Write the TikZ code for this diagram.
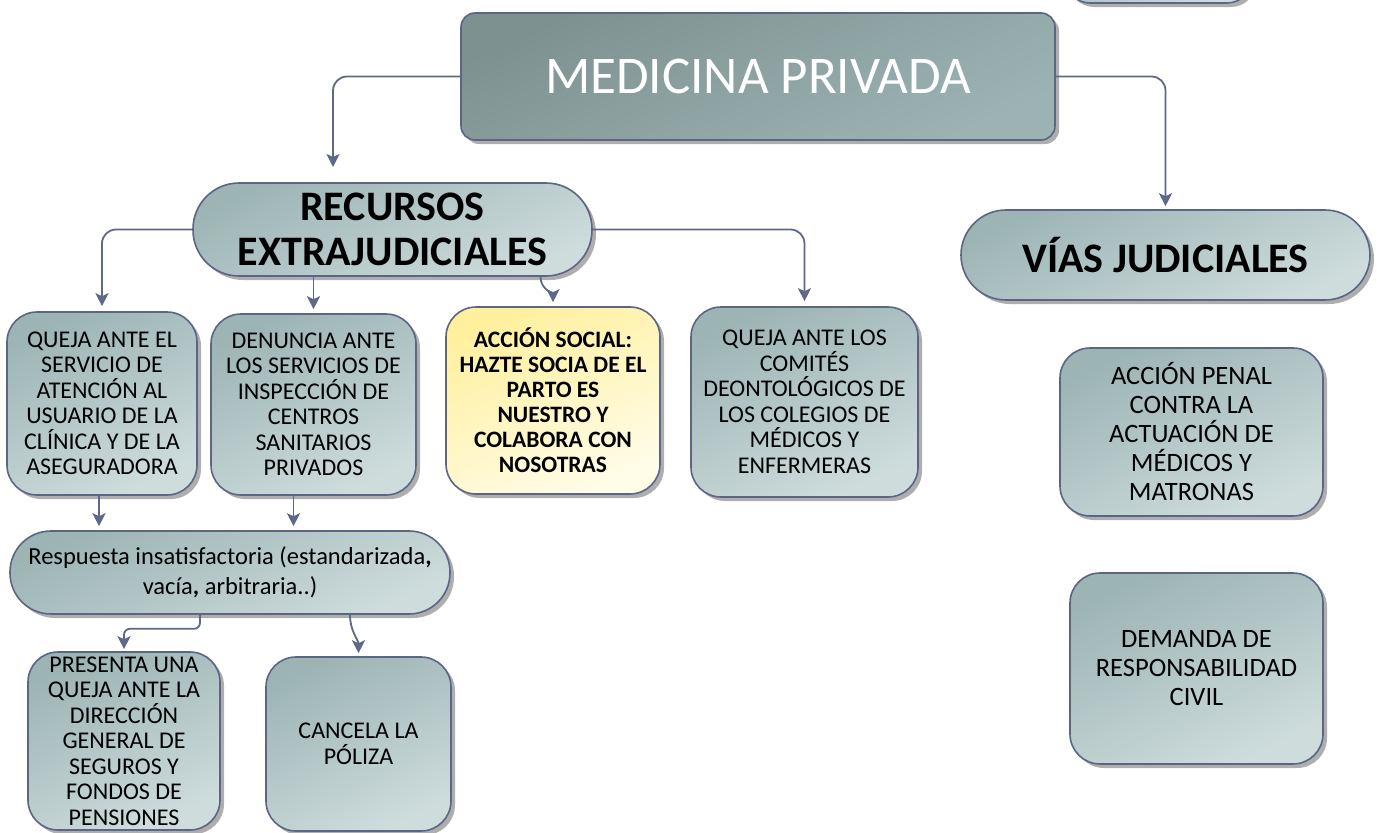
\documentclass[tikz,border=0pt]{standalone}
\usepackage{fontspec}
\setmainfont{Carlito}
\usepackage{tikz}
\usetikzlibrary{arrows.meta,shadows,calc}
\usepackage{xcolor}

\definecolor{boxline}{HTML}{5B6585}
\definecolor{arrowcol}{HTML}{5F6889}
\definecolor{titletop}{HTML}{7E9191}
\definecolor{titlebot}{HTML}{9DB3B3}
\definecolor{boxtop}{HTML}{9DB4B5}
\definecolor{boxbot}{HTML}{CEDCDC}
\definecolor{notetop}{HTML}{FFF09E}
\definecolor{notebot}{HTML}{FFFCE8}

\begin{document}
\begin{tikzpicture}[x=1pt, y=-1pt,
    >={Stealth[length=13pt,width=13pt,inset=3pt]},
    box/.style={draw=boxline, line width=1.6pt, top color=boxtop, bottom color=boxbot,
        shading angle=25, align=center, inner sep=0pt,
        drop shadow={shadow xshift=4pt, shadow yshift=-4pt, fill=black!45, opacity=0.7}},
    card/.style={box, rounded corners=30pt, font=\fontsize{24}{25.5}\selectfont},
    bigcard/.style={box, rounded corners=30pt, font=\fontsize{26.5}{29}\selectfont},
    conn/.style={->, draw=arrowcol, line width=1.8pt, rounded corners=14pt}]

    \useasboundingbox (0,0) rectangle (1377,833);
    \clip (0,0) rectangle (1377,833);
    \fill[white] (0,0) rectangle (1377,833);

    % Box cut by the top edge
    \draw[box, rounded corners=25pt] (1065,-60) rectangle (1252,3);

    % Title
    \node[box, top color=titletop, bottom color=titlebot, shading angle=25,
          rounded corners=14pt, minimum width=594pt, minimum height=127pt,
          text=white, font=\fontsize{53}{56}\selectfont]
        (medicina) at (758,76.5) {MEDICINA PRIVADA};

    % Second level
    \node[box, rounded corners=46pt, minimum width=399pt, minimum height=93pt,
          font=\fontsize{42}{45}\selectfont\bfseries]
        (recursos) at (392.5,229.5) {RECURSOS\\EXTRAJUDICIALES};
    \node[box, rounded corners=45pt, minimum width=409pt, minimum height=90pt,
          font=\fontsize{42}{45}\selectfont\bfseries]
        (vias) at (1165.5,255) {VÍAS JUDICIALES};

    % Extrajudicial options
    \node[card, minimum width=190pt, minimum height=183pt] (quejaSAU) at (102,403.5)
        {QUEJA ANTE EL\\SERVICIO DE\\ATENCIÓN AL\\USUARIO DE LA\\CLÍNICA Y DE LA\\ASEGURADORA};
    \node[card, minimum width=205pt, minimum height=181pt] (denuncia) at (313.5,404.5)
        {DENUNCIA ANTE\\LOS SERVICIOS DE\\INSPECCIÓN DE\\CENTROS\\SANITARIOS\\PRIVADOS};
    \node[card, top color=notetop, bottom color=notebot, shading angle=25,
          minimum width=214pt, minimum height=187pt,
          font=\fontsize{23.5}{25}\selectfont\bfseries] (accion) at (553,400.5)
        {ACCIÓN SOCIAL:\\HAZTE SOCIA DE EL\\PARTO ES\\NUESTRO Y\\COLABORA CON\\NOSOTRAS};
    \node[card, minimum width=227pt, minimum height=190pt] (comites) at (804.5,402)
        {QUEJA ANTE LOS\\COMITÉS\\DEONTOLÓGICOS DE\\LOS COLEGIOS DE\\MÉDICOS Y\\ENFERMERAS};

    % Answer and next steps
    \node[box, rounded corners=41pt, minimum width=440pt, minimum height=83pt,
          font=\fontsize{24.5}{30}\selectfont] (respuesta) at (230,572.5)
        {Respuesta insatisfactoria (estandarizada\textbf{,}\\vacía\textbf{,} arbitraria..)};
    \node[card, minimum width=192pt, minimum height=178pt] (presenta) at (124,741)
        {PRESENTA UNA\\QUEJA ANTE LA\\DIRECCIÓN\\GENERAL DE\\SEGUROS Y\\FONDOS DE\\PENSIONES};
    \node[card, minimum width=185pt, minimum height=174pt] (cancela) at (358.5,744)
        {CANCELA LA\\PÓLIZA};

    % Judicial options
    \node[bigcard, minimum width=263pt, minimum height=168pt] (penal) at (1191.5,432)
        {ACCIÓN PENAL\\CONTRA LA\\ACTUACIÓN DE\\MÉDICOS Y\\MATRONAS};
    \node[bigcard, minimum width=253pt, minimum height=191pt] (demanda) at (1196.5,668.5)
        {DEMANDA DE\\RESPONSABILIDAD\\CIVIL};

    % Connectors
    \coordinate (recursosIn) at (333,167);
    \draw[conn] (medicina.west) -| (recursosIn);
    \draw[conn, shorten >=3pt] (medicina.east) -| (vias.north);
    \draw[conn, shorten >=5pt] (recursos.west) -| (quejaSAU.north);
    \draw[conn, shorten >=4pt] (recursos.south -| denuncia.north) -- (denuncia.north);
    \draw[conn, shorten >=4pt] ([xshift=148pt]recursos.south) to[out=-90,in=90] (accion.north);
    \draw[conn, shorten >=5pt] (recursos.east) -| (comites.north);
    \draw[conn, shorten >=4pt] ([xshift=-3pt]quejaSAU.south) -- ([xshift=-3pt]quejaSAU.south |- respuesta.north);
    \draw[conn, shorten >=4pt] ([xshift=-20pt]denuncia.south) -- ([xshift=-20pt]denuncia.south |- respuesta.north);
    \draw[conn, rounded corners=6pt, shorten >=2pt] ([xshift=-30pt]respuesta.south) -- ++(0,14) -| (presenta.north);
    \draw[conn, shorten >=3pt] ([xshift=120pt]respuesta.south) to[out=-90,in=90] (cancela.north);
\end{tikzpicture}
\end{document}
